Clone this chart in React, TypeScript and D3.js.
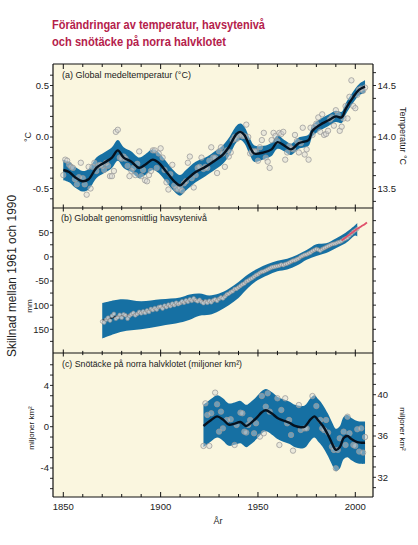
import React from "react";
import * as d3 from "d3";

// ---------- Panel (a): global mean temperature anomaly (°C) ----------
const tempStartYear = 1850;
const tempAnnual = [
  -0.37, -0.22, -0.23, -0.27, -0.29, -0.30, -0.41, -0.46, -0.39, -0.25,
  -0.40, -0.46, -0.56, -0.29, -0.50, -0.29, -0.25, -0.33, -0.28, -0.27,
  -0.28, -0.32, -0.25, -0.28, -0.38, -0.38, -0.33, 0.05, 0.07, -0.20,
  -0.21, -0.19, -0.21, -0.28, -0.38, -0.33, -0.30, -0.37, -0.26, -0.14,
  -0.38, -0.32, -0.42, -0.43, -0.37, -0.33, -0.13, -0.13, -0.30, -0.16,
  -0.11, -0.20, -0.32, -0.44, -0.51, -0.36, -0.27, -0.47, -0.50, -0.51,
  -0.49, -0.52, -0.45, -0.43, -0.25, -0.19, -0.40, -0.49, -0.37, -0.30,
  -0.29, -0.20, -0.31, -0.29, -0.30, -0.23, -0.10, -0.20, -0.20, -0.35,
  -0.14, -0.10, -0.16, -0.29, -0.13, -0.19, -0.15, -0.03, 0.00, -0.02,
  0.02, 0.03, 0.01, 0.01, 0.12, 0.00, -0.16, -0.14, -0.14, -0.14,
  -0.23, -0.10, -0.03, 0.04, -0.20, -0.24, -0.30, -0.03, 0.04, 0.01,
  -0.04, 0.04, 0.03, 0.05, -0.22, -0.15, -0.09, -0.11, -0.12, 0.02,
  -0.04, -0.15, -0.06, 0.09, -0.17, -0.12, -0.22, 0.09, 0.02, 0.10,
  0.13, 0.19, 0.05, 0.22, 0.02, 0.03, 0.06, 0.17, 0.19, 0.11,
  0.26, 0.22, 0.06, 0.10, 0.18, 0.30, 0.18, 0.39, 0.55, 0.30,
  0.28, 0.41, 0.46, 0.47, 0.45, 0.48,
];
const tempSmoothYears = [
  1850, 1853, 1856, 1860, 1863, 1867, 1871, 1875, 1878, 1881,
  1885, 1889, 1892, 1896, 1899, 1903, 1907, 1910, 1913, 1918,
  1923, 1927, 1932, 1935, 1939, 1941, 1943, 1946, 1948, 1953,
  1957, 1960, 1964, 1967, 1971, 1976, 1978, 1982, 1986, 1990,
  1993, 1995, 1999, 2002, 2005,
];
const tempSmooth = [
  -0.32, -0.34, -0.39, -0.43, -0.41, -0.30, -0.25, -0.20, -0.13, -0.20,
  -0.24, -0.30, -0.27, -0.22, -0.25, -0.34, -0.43, -0.47, -0.42, -0.34,
  -0.29, -0.24, -0.17, -0.10, 0.03, 0.05, 0.02, -0.10, -0.16, -0.15,
  -0.12, -0.05, -0.09, -0.12, -0.06, -0.03, 0.06, 0.12, 0.16, 0.20,
  0.19, 0.27, 0.39, 0.46, 0.49,
];
const tempBandHalf = [
  0.10, 0.10, 0.10, 0.10, 0.10, 0.10, 0.10, 0.10, 0.10, 0.10,
  0.10, 0.10, 0.10, 0.10, 0.10, 0.10, 0.10, 0.10, 0.10, 0.10,
  0.09, 0.09, 0.09, 0.09, 0.08, 0.08, 0.08, 0.08, 0.08, 0.065,
  0.065, 0.065, 0.055, 0.055, 0.055, 0.055, 0.055, 0.055, 0.055, 0.055,
  0.055, 0.055, 0.055, 0.055, 0.06,
];
const tempLeftTicks = [0.5, 0, -0.5];
const tempLeftLabels = ["0.5", "0.0", "-0.5"];
const tempRightTicks = [14.5, 14.0, 13.5];
const tempRightLabels = ["14.5", "14.0", "13.5"];

// ---------- Panel (b): global average sea level (mm) ----------
const seaStartYear = 1870;
const seaAnnual = [
  -134, -136, -130, -126, -132, -122, -118, -128, -125, -120,
  -126, -119, -121, -128, -122, -119, -116, -121, -118, -114,
  -117, -113, -116, -111, -114, -108, -110, -106, -109, -104,
  -103, -107, -101, -104, -99, -102, -97, -100, -95, -98,
  -96, -92, -95, -90, -93, -88, -91, -86, -90, -92,
  -89, -93, -96, -92, -95, -91, -94, -90, -88, -91,
  -87, -84, -86, -82, -78, -76, -73, -71, -67, -66,
  -63, -60, -57, -55, -51, -49, -46, -44, -41, -38,
  -36, -33, -31, -30, -28, -26, -24, -22, -21, -20,
  -19, -18, -16, -17, -15, -14, -12, -10, -8, -7,
  -5, -3, 0, 2, 4, 5, 7, 9, 12, 14,
  16, 15, 13, 16, 18, 20, 22, 24, 26, 27,
  28, 30, 31, 33, 36, 38, 40, 44, 48, 52,
  55, 58,
];
const seaSmoothYears = [
  1870, 1875, 1880, 1885, 1890, 1895, 1900, 1905, 1910, 1915,
  1920, 1925, 1930, 1935, 1940, 1945, 1950, 1955, 1960, 1965,
  1970, 1975, 1980, 1985, 1990, 1995, 2000, 2001,
];
const seaSmooth = [
  -132, -126, -122, -120, -116, -110, -105, -101, -97, -91,
  -90, -93, -87, -75, -63, -49, -36, -27, -19, -15,
  -6, 4, 15, 18, 28, 38, 55, 58,
];
const seaBandYears = [
  1870, 1880, 1890, 1900, 1910, 1915, 1920, 1925, 1930, 1935,
  1940, 1945, 1950, 1955, 1960, 1965, 1970, 1975, 1980, 1985,
  1990, 1995, 2000, 2001,
];
const seaBandHigh = [
  -96, -88, -92, -88, -84, -78, -76, -80, -76, -66,
  -52, -36, -24, -15, -8, -4, 4, 14, 26, 28,
  38, 50, 66, 70,
];
const seaBandLow = [
  -169, -155, -150, -143, -136, -130, -122, -120, -112, -100,
  -85, -64, -48, -38, -30, -26, -18, -6, 2, 8,
  18, 28, 44, 42,
];
const satYears = [1993, 1995, 1997, 1999, 2001, 2003, 2005, 2006];
const satValues = [34, 40, 46, 52, 58, 63, 68, 71];
const seaLeftTicks = [50, 0, -50, -100, -150];
const seaLeftLabels = ["50", "0", "-50", "100", "150"];

// ---------- Panel (c): NH snow cover (million km²) ----------
const snowYears = [
  1922, 1923, 1924, 1925, 1926, 1928, 1929, 1930, 1931, 1932,
  1934, 1936, 1938, 1939, 1941, 1942, 1943, 1944, 1945, 1946,
  1948, 1949, 1951, 1952, 1953, 1954, 1955, 1956, 1960, 1961,
  1962, 1964, 1965, 1966, 1967, 1968, 1971, 1972, 1974, 1975,
  1978, 1980, 1982, 1983, 1984, 1985, 1986, 1988, 1989, 1990,
  1991, 1992, 1994, 1995, 1996, 1997, 1999, 2000, 2001, 2002,
  2003, 2004, 2005,
];
const snowAnnual = [
  -1.86, 2.26, 1.14, -1.86, 1.30, 3.30, 2.17, -0.48, 1.46, -0.16,
  0.65, 0.72, -1.77, 0.17, 1.36, 1.30, -0.48, -0.57, 0.17, 0.65,
  -0.64, 0.33, -0.96, 2.97, -0.64, 1.94, 3.23, 1.46, 2.75, -1.77,
  1.62, 2.75, 0.33, 0.65, -0.80, -2.32, 2.10, -0.32, -0.16, -0.16,
  2.97, 2.00, 0.65, -0.16, -0.32, 0.65, -0.57, -1.93, -2.25, -4.03,
  -2.25, -1.12, -0.48, -1.77, 0.97, -0.64, -1.77, -1.86, -0.25, -2.41,
  -0.16, -2.51, -1.00,
];
const snowSmoothYears = [
  1922, 1926, 1929, 1932, 1935, 1938, 1941, 1944, 1946, 1949,
  1952, 1954, 1957, 1960, 1963, 1966, 1969, 1972, 1974, 1977,
  1979, 1981, 1983, 1986, 1988, 1990, 1992, 1994, 1996, 1998,
  2001, 2003, 2005,
];
const snowSmooth = [
  0.07, 0.65, 1.0, 0.7, 0.2, 0.3, 0.45, 0.07, 0.3, 0.8,
  1.4, 1.6, 1.3, 0.85, 0.6, 0.4, 0.07, -0.05, 0.0, 0.7,
  1.0, 0.6, 0.16, -0.8, -1.6, -2.25, -2.0, -1.1, -0.9, -1.2,
  -1.5, -1.55, -1.55,
];
const snowBandHalf = [
  2.05, 2.05, 2.05, 2.05, 2.05, 2.05, 2.05, 2.05, 2.05, 2.05,
  2.05, 2.05, 2.05, 2.05, 2.05, 2.05, 2.05, 2.05, 2.05, 2.05,
  2.05, 2.05, 2.05, 2.05, 2.05, 2.05, 2.05, 2.05, 2.05, 2.05,
  2.05, 2.05, 2.05,
];
const snowLeftTicks = [4, 0, -4];
const snowLeftLabels = ["4", "0", "-4"];
const snowRightTicks = [40, 36, 32];
const snowRightLabels = ["40", "36", "32"];

const xMajorTicks = [1850, 1900, 1950, 2000];
const xLabels = ["1850", "1900", "1950", "2000"];

const FONT = "'Liberation Sans', Arial, Helvetica, sans-serif";
const BAND = "#1670a3";
const BG = "#faf6df";
const TITLE_RED = "#b5214b";

export default function App() {
  const L = 53, R = 373;
  const yTop = 64, yAB = 208, yBC = 353, yBot = 497;

  const x = d3.scaleLinear().domain([1850, 2000]).range([63.3, 355.3]);
  const yA = d3.scaleLinear().domain([-0.5, 0.5]).range([188.5, 85.5]);
  const yAR = d3.scaleLinear().domain([13.5, 14.5]).range([188.5, 85.5]);
  const yB = d3.scaleLinear().domain([-150, 50]).range([329.3, 232.7]);
  const yC = d3.scaleLinear().domain([-4, 4]).range([468.0, 385.4]);
  const yCR = d3.scaleLinear().domain([32, 40]).range([477.3, 394.7]);

  const curve = d3.curveCatmullRom.alpha(0.5);

  const aNodes = tempSmoothYears.map((yr, i) => ({ yr, v: tempSmooth[i], h: tempBandHalf[i] }));
  const aBand = d3.area<any>().x((d) => x(d.yr)).y0((d) => yA(d.v - d.h)).y1((d) => yA(d.v + d.h)).curve(curve)(aNodes);
  const aLine = d3.line<any>().x((d) => x(d.yr)).y((d) => yA(d.v)).curve(curve)(aNodes);
  const aPts = tempAnnual.map((v, i) => ({ yr: tempStartYear + i, v }));

  const bBandNodes = seaBandYears.map((yr, i) => ({ yr, lo: seaBandLow[i], hi: seaBandHigh[i] }));
  const bBand = d3.area<any>().x((d) => x(d.yr)).y0((d) => yB(d.lo)).y1((d) => yB(d.hi)).curve(curve)(bBandNodes);
  const bNodes = seaSmoothYears.map((yr, i) => ({ yr, v: seaSmooth[i] }));
  const bLine = d3.line<any>().x((d) => x(d.yr)).y((d) => yB(d.v)).curve(curve)(bNodes);
  const bPts = seaAnnual.map((v, i) => ({ yr: seaStartYear + i, v }));
  const satNodes = satYears.map((yr, i) => ({ yr, v: satValues[i] }));
  const satLine = d3.line<any>().x((d) => x(d.yr)).y((d) => yB(d.v)).curve(curve)(satNodes);

  const cNodes = snowSmoothYears.map((yr, i) => ({ yr, v: snowSmooth[i], h: snowBandHalf[i] }));
  const cBand = d3.area<any>().x((d) => x(d.yr)).y0((d) => yC(d.v - d.h)).y1((d) => yC(d.v + d.h)).curve(curve)(cNodes);
  const cLine = d3.line<any>().x((d) => x(d.yr)).y((d) => yC(d.v)).curve(curve)(cNodes);
  const cPts = snowYears.map((yr, i) => ({ yr, v: snowAnnual[i] }));

  const xMinor = d3.range(1850, 2001, 10);
  const xTickEls: React.ReactNode[] = [];
  [yTop, yAB, yBC, yBot].forEach((yy, bi) => {
    xMinor.forEach((yr) => {
      const major = xMajorTicks.includes(yr);
      const len = major ? 5 : 3;
      let y1 = yy - len, y2 = yy + len;
      if (bi === 0) { y1 = yy; y2 = yy + len; }
      if (bi === 3) { y1 = yy - len; y2 = yy; }
      if (bi === 1 || bi === 2) { y1 = yy - len * 0.7; y2 = yy + len * 0.7; }
      xTickEls.push(<line key={`xt${bi}-${yr}`} x1={x(yr)} x2={x(yr)} y1={y1} y2={y2} stroke="#111" strokeWidth={1} />);
    });
  });

  const yTickLines = (scale: any, vals: number[], side: "l" | "r", key: string, lo: number, hi: number) =>
    vals
      .filter((v) => scale(v) > lo + 1 && scale(v) < hi - 1)
      .map((v, i) => (
        <line key={`${key}${i}`} x1={side === "l" ? L - 3 : R} x2={side === "l" ? L : R + 3} y1={scale(v)} y2={scale(v)} stroke="#111" strokeWidth={0.9} />
      ));

  const aLeftMinor = d3.range(-6, 7).map((k) => k / 10);
  const aRightMinor = d3.range(-5, 6).map((k) => 14 + k * 0.125);
  const bMinor = d3.range(-7, 4).map((k) => k * 25);
  const cLeftMinor = d3.range(-6, 7);
  const cRightMinor = d3.range(31, 44);

  const pointStyle = { fill: "#d6d6d6", fillOpacity: 0.45, stroke: "#9a9a9a", strokeWidth: 0.75 };

  return (
    <div style={{ position: "absolute", left: 0, top: 0 }}>
      <svg width={418} height={545} viewBox="0 0 418 545" style={{ display: "block", fontFamily: FONT }}>
        <rect x={0} y={0} width={418} height={545} fill="#ffffff" />
        <text x={52} y={29} fontSize={13.5} fontWeight="bold" fill={TITLE_RED} textLength={213} lengthAdjust="spacingAndGlyphs">
          Förändringar av temperatur, havsytenivå
        </text>
        <text x={52} y={46} fontSize={13.5} fontWeight="bold" fill={TITLE_RED} textLength={174} lengthAdjust="spacingAndGlyphs">
          och snötäcke på norra halvklotet
        </text>

        <rect x={L} y={yTop} width={R - L} height={yBot - yTop} fill={BG} />

        <defs>
          <clipPath id="clipA"><rect x={L} y={yTop} width={R - L} height={yAB - yTop} /></clipPath>
          <clipPath id="clipB"><rect x={L} y={yAB} width={R - L} height={yBC - yAB} /></clipPath>
          <clipPath id="clipC"><rect x={L} y={yBC} width={R - L} height={yBot - yBC} /></clipPath>
        </defs>
        <g clipPath="url(#clipA)">
          <path d={aBand || ""} fill={BAND} />
          {aPts.map((p, i) => (
            <circle key={`ap${i}`} cx={x(p.yr)} cy={yA(p.v)} r={2.7} {...pointStyle} />
          ))}
          <path d={aLine || ""} fill="none" stroke="#06121f" strokeWidth={2.4} />
        </g>

        <g clipPath="url(#clipB)">
          <path d={bBand || ""} fill={BAND} />
          <path d={bLine || ""} fill="none" stroke="#06121f" strokeWidth={1.6} />
          {bPts.map((p, i) => (
            <circle key={`bp${i}`} cx={x(p.yr)} cy={yB(p.v)} r={1.9} fill="#dcdcdc" fillOpacity={0.75} stroke="#8a8a8a" strokeWidth={0.55} />
          ))}
          <path d={satLine || ""} fill="none" stroke="#e0506b" strokeWidth={1.8} />
        </g>

        <g clipPath="url(#clipC)">
          <path d={cBand || ""} fill={BAND} />
          {cPts.map((p, i) => (
            <circle key={`cp${i}`} cx={x(p.yr)} cy={yC(p.v)} r={2.7} {...pointStyle} />
          ))}
          <path d={cLine || ""} fill="none" stroke="#06121f" strokeWidth={2.4} />
        </g>

        <g stroke="#111" strokeWidth={1.2} fill="none">
          <line x1={L} x2={L} y1={yTop} y2={yBot} />
          <line x1={R} x2={R} y1={yTop} y2={yBot} />
          <line x1={L} x2={R} y1={yTop} y2={yTop} />
          <line x1={L} x2={R} y1={yAB} y2={yAB} />
          <line x1={L} x2={R} y1={yBC} y2={yBC} />
          <line x1={L} x2={R} y1={yBot} y2={yBot} />
        </g>
        {xTickEls}
        {yTickLines(yA, aLeftMinor, "l", "al", yTop, yAB)}
        {yTickLines(yAR, aRightMinor, "r", "ar", yTop, yAB)}
        {yTickLines(yB, bMinor, "l", "bl", yAB, yBC)}
        {yTickLines(yB, bMinor, "r", "br", yAB, yBC)}
        {yTickLines(yC, cLeftMinor, "l", "cl", yBC, yBot)}
        {yTickLines(yCR, cRightMinor, "r", "cr", yBC, yBot)}

        <g fontSize={9.5} fill="#222">
          {tempLeftTicks.map((v, i) => (
            <text key={`tal${i}`} x={49} y={yA(v) + 3.4} textAnchor="end">{tempLeftLabels[i]}</text>
          ))}
          {tempRightTicks.map((v, i) => (
            <text key={`tar${i}`} x={377.5} y={yAR(v) + 3.4} textAnchor="start">{tempRightLabels[i]}</text>
          ))}
          {seaLeftTicks.map((v, i) => (
            <text key={`tbl${i}`} x={49} y={yB(v) + 3.4} textAnchor="end">{seaLeftLabels[i]}</text>
          ))}
          {snowLeftTicks.map((v, i) => (
            <text key={`tcl${i}`} x={49} y={yC(v) + 3.4} textAnchor="end">{snowLeftLabels[i]}</text>
          ))}
          {snowRightTicks.map((v, i) => (
            <text key={`tcr${i}`} x={377.5} y={yCR(v) + 3.4} textAnchor="start">{snowRightLabels[i]}</text>
          ))}
          {xMajorTicks.map((yr, i) => (
            <text key={`tx${i}`} x={x(yr)} y={510} textAnchor="middle">{xLabels[i]}</text>
          ))}
        </g>

        <g fontSize={9} fill="#222">
          <text x={62} y={78} textLength={129} lengthAdjust="spacingAndGlyphs">(a)  Global medeltemperatur (°C)</text>
          <text x={61} y={221} textLength={146} lengthAdjust="spacingAndGlyphs">(b)  Globalt genomsnittlig havsytenivå</text>
          <text x={62} y={367} textLength={180} lengthAdjust="spacingAndGlyphs">(c) Snötäcke på norra halvklotet (miljoner km²)</text>
        </g>

        <g fill="#222">
          <text transform="translate(31,137) rotate(-90)" fontSize={9} textAnchor="middle">°C</text>
          <text transform="translate(32,306) rotate(-90)" fontSize={8} textAnchor="middle">mm</text>
          <text transform="translate(34,428) rotate(-90)" fontSize={8} textAnchor="middle">miljoner km²</text>
          <text transform="translate(400,136) rotate(90)" fontSize={9} textAnchor="middle">Temperatur °C</text>
          <text transform="translate(400,429) rotate(90)" fontSize={8} textAnchor="middle">miljoner km²</text>
          <text transform="translate(16,276) rotate(-90)" fontSize={13} textAnchor="middle" textLength={162} lengthAdjust="spacingAndGlyphs">Skillnad mellan 1961 och 1990</text>
          <text x={218} y={524} fontSize={9} textAnchor="middle">År</text>
        </g>
      </svg>
    </div>
  );
}
